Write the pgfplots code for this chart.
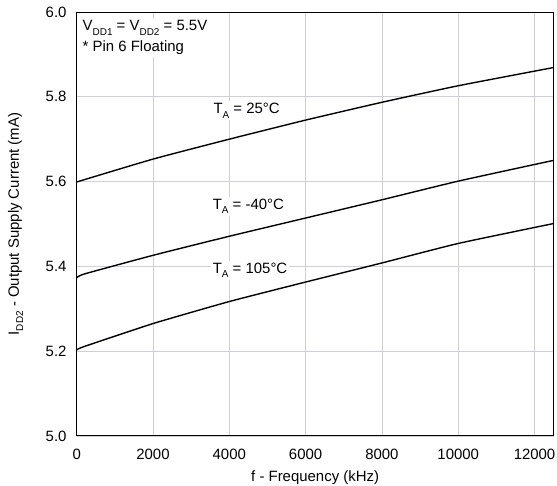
\documentclass[border=0pt]{standalone}
\usepackage{fontspec}
\setmainfont{Liberation Sans}
\usepackage{pgfplots}
\pgfplotsset{compat=1.18}
\definecolor{gridc}{RGB}{205,208,218}
\newcommand{\sub}[1]{\raisebox{-0.55ex}{\fontsize{10}{11}\selectfont #1}}
\begin{document}%
\fontsize{15}{18}\selectfont%
\begin{tikzpicture}
\path[use as bounding box] (-76.7bp,-50bp) rectangle (480.4bp,436bp);
\begin{axis}[
  at={(0,0)}, anchor=south west,
  scale only axis,
  width=477bp, height=424bp,
  xmin=0, xmax=12500, ymin=5.0, ymax=6.0,
  xtick={0,2000,4000,6000,8000,10000,12000},
  ytick={5.0,5.2,5.4,5.6,5.8,6.0},
  grid=major,
  major grid style={gridc, line width=0.8pt},
  tick style={draw=none},
  axis line style={black, line width=0.9pt},
  /pgf/number format/assume math mode=true,
  /pgf/number format/1000 sep={},
  yticklabel style={/pgf/number format/fixed, /pgf/number format/precision=1, /pgf/number format/fixed zerofill, xshift=-5bp},
  scaled ticks=false,
  xticklabel style={yshift=-8bp},
  xlabel={f - Frequency (kHz)},
  ylabel={I\sub{DD2} - Output Supply Current (mA)},
  xlabel style={at={(axis description cs:0.5,-0.098)}, anchor=center},
  ylabel style={at={(axis description cs:-0.128,0.5)}, anchor=center},
]
\addplot[black, line width=1.4pt, smooth, tension=0.3] coordinates {(0,5.599) (2000,5.653) (4000,5.700) (6000,5.745) (8000,5.787) (10000,5.826) (12500,5.869)};
\addplot[black, line width=1.4pt, smooth, tension=0.3] coordinates {(0,5.373) (200,5.382) (2000,5.426) (4000,5.471) (6000,5.514) (8000,5.557) (10000,5.601) (12500,5.650)};
\addplot[black, line width=1.4pt, smooth, tension=0.3] coordinates {(0,5.203) (200,5.211) (2000,5.265) (4000,5.317) (6000,5.363) (8000,5.408) (10000,5.454) (12500,5.501)};
\node[fill=white, inner sep=2pt, anchor=base west] at (axis cs:3530,5.760) {T\sub{A} = 25°C};
\node[fill=white, inner sep=2pt, anchor=base west] at (axis cs:3510,5.534) {T\sub{A} = -40°C};
\node[fill=white, inner sep=2pt, anchor=base west] at (axis cs:3510,5.383) {T\sub{A} = 105°C};
\node[fill=white, anchor=north west, align=left, inner sep=2pt] at (axis description cs:0.008,0.985) {V\sub{DD1} = V\sub{DD2} = 5.5V\\[3pt]* Pin 6 Floating};
\end{axis}
\end{tikzpicture}%
\end{document}
